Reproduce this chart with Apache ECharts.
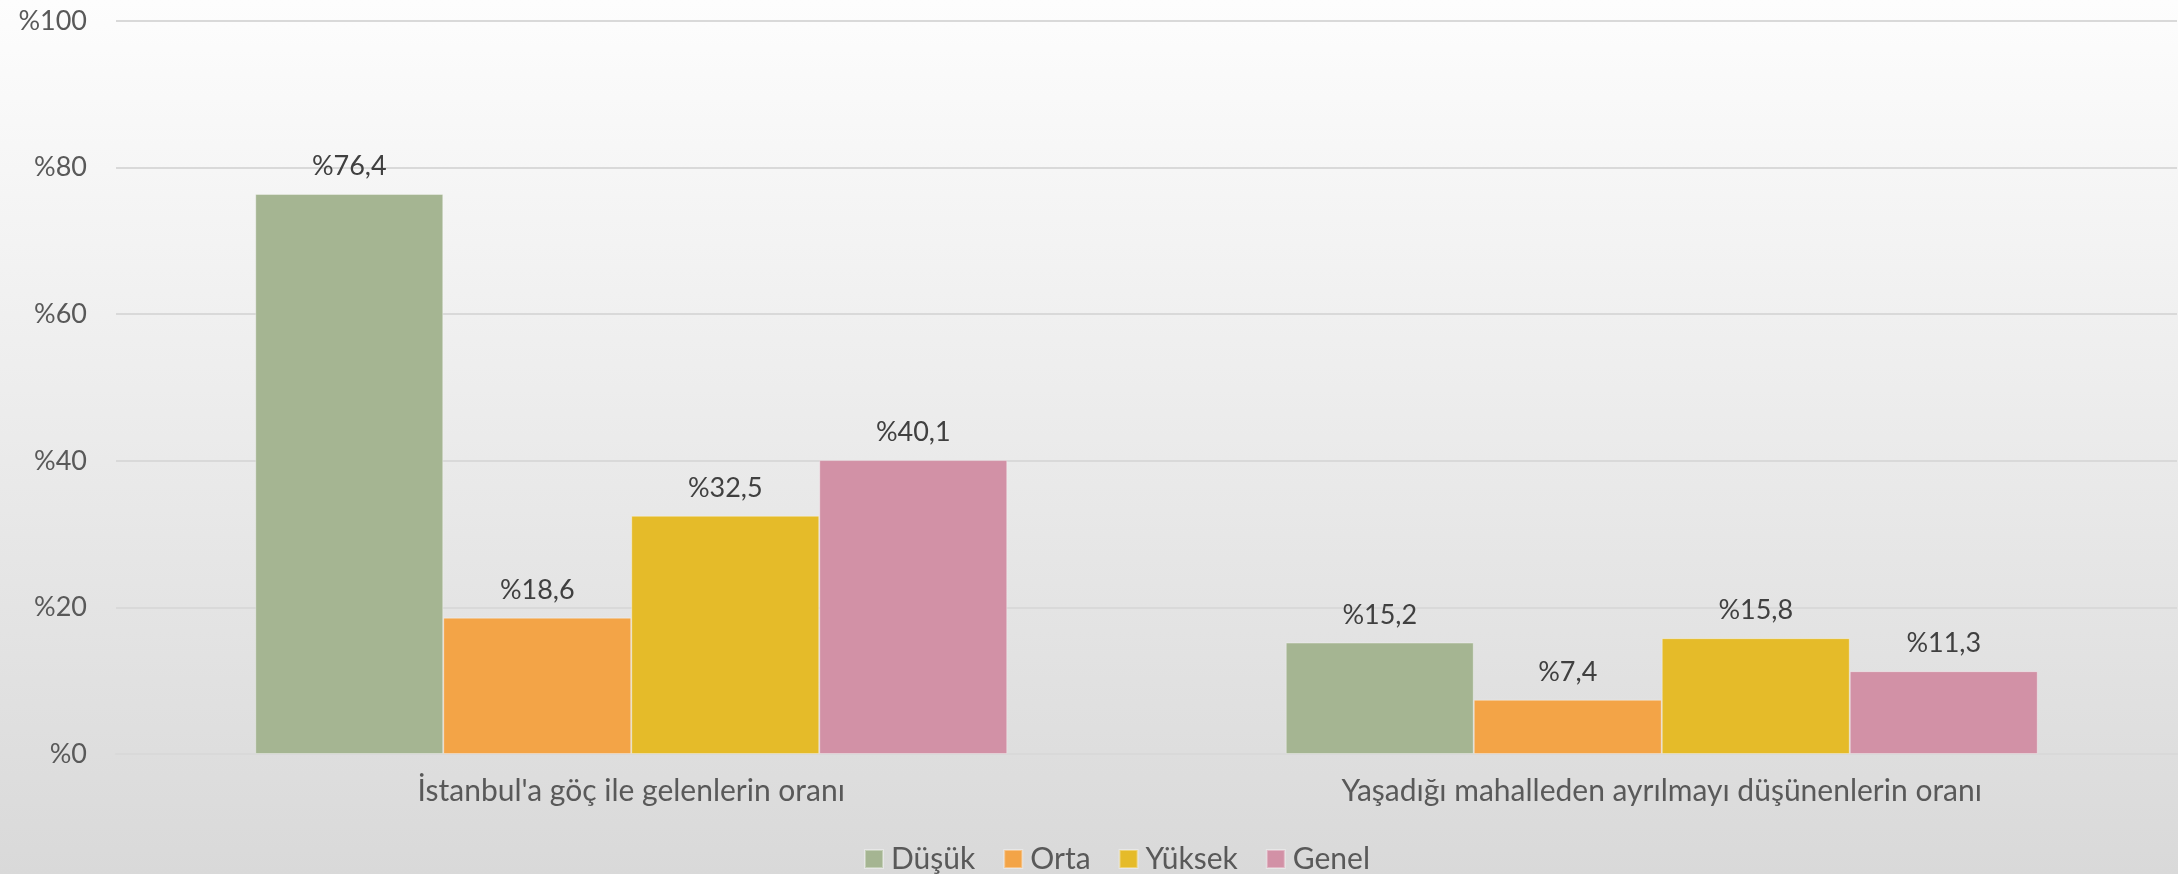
<!DOCTYPE html>
<html>
<head>
<meta charset="utf-8">
<script src="https://cdn.jsdelivr.net/npm/echarts@6/dist/echarts.min.js"></script>
<style>
  html, body { margin: 0; padding: 0; }
  #chart { width: 2178px; height: 874px; }
</style>
</head>
<body>
<div id="chart"></div>
<script>
  // kategoriler ve seriler
  var categories = ["İstanbul'a göç ile gelenlerin oranı", 'Yaşadığı mahalleden ayrılmayı düşünenlerin oranı'];
  var seriesNames = ['Düşük', 'Orta', 'Yüksek', 'Genel'];
  var dusuk = [76.4, 15.2];
  var orta = [18.6, 7.4];
  var yuksek = [32.5, 15.8];
  var genel = [40.1, 11.3];
  var yTicks = [0, 20, 40, 60, 80, 100];

  var colors = ['#a5b592', '#f3a447', '#e5bb29', '#d291a6'];
  var font = 'Lato, "Open Sans", sans-serif';

  var chart = echarts.init(document.getElementById('chart'));

  function makeSeries(name, data, i) {
    return {
      name: name,
      type: 'bar',
      data: data,
      barWidth: 188,
      barGap: '0%',
      itemStyle: {
        color: colors[i],
        borderColor: 'rgba(255,255,255,0.35)',
        borderWidth: 1
      },
      label: {
        show: true,
        position: 'top',
        distance: 14,
        color: '#404040',
        fontSize: 27,
        fontFamily: font,
        formatter: function (p) {
          return '%' + String(p.value).replace('.', ',');
        }
      }
    };
  }

  var option = {
    backgroundColor: new echarts.graphic.LinearGradient(0, 0, 0, 1, [
      { offset: 0, color: '#fdfdfd' },
      { offset: 1, color: '#d9d9d9' }
    ]),
    animation: false,
    textStyle: { fontFamily: font },
    grid: { left: 116, right: 1, top: 21, bottom: 120 },
    legend: {
      data: seriesNames,
      top: 844,
      left: 864,
      padding: 0,
      icon: 'rect',
      itemWidth: 18,
      itemHeight: 18,
      itemGap: 28,
      textStyle: {
        color: '#595959', fontSize: 30, lineHeight: 30, fontFamily: font,
        padding: [0, 0, 0, 3]
      }
    },
    xAxis: {
      type: 'category',
      data: categories,
      axisLine: { show: true, lineStyle: { color: '#d9d9d9', width: 2 } },
      axisTick: { show: false },
      axisLabel: { color: '#595959', fontSize: 30, fontFamily: font, margin: 22 }
    },
    yAxis: {
      type: 'value',
      min: yTicks[0],
      max: yTicks[yTicks.length - 1],
      interval: 20,
      axisLine: { show: false },
      axisTick: { show: false },
      splitLine: { lineStyle: { color: '#d9d9d9', width: 2 } },
      axisLabel: {
        color: '#595959', fontSize: 27, fontFamily: font, margin: 29,
        formatter: function (v) { return '%' + v; }
      }
    },
    series: [
      makeSeries(seriesNames[0], dusuk, 0),
      makeSeries(seriesNames[1], orta, 1),
      makeSeries(seriesNames[2], yuksek, 2),
      makeSeries(seriesNames[3], genel, 3)
    ]
  };

  chart.setOption(option);
</script>
</body>
</html>
